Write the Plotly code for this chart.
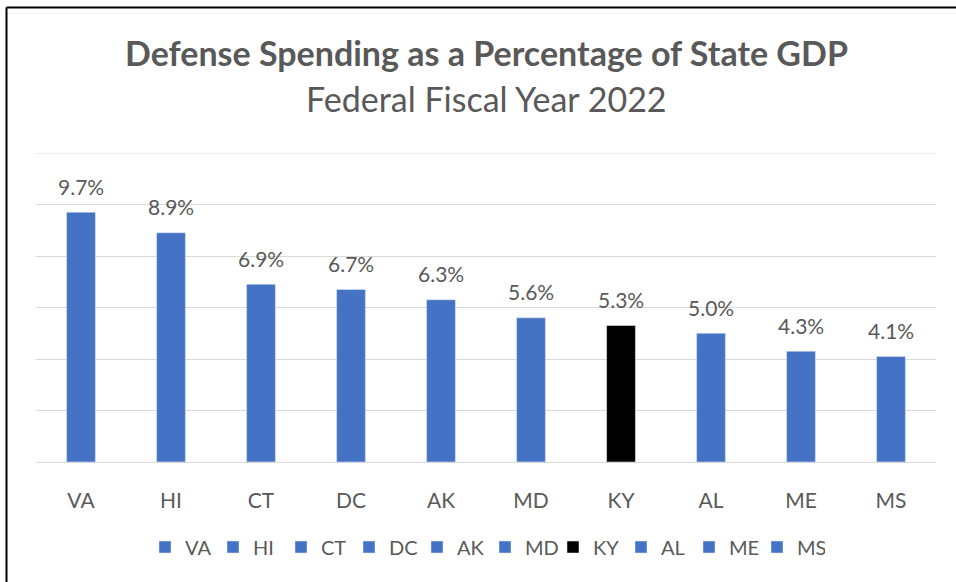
import plotly.graph_objects as go

states = ["VA", "HI", "CT", "DC", "AK", "MD", "KY", "AL", "ME", "MS"]
shares = [9.7, 8.9, 6.9, 6.7, 6.3, 5.6, 5.3, 5.0, 4.3, 4.1]
bar_colors = ["#4472C4"] * 6 + ["#000000"] + ["#4472C4"] * 3

GREY = "#595959"
FONT = "Lato, sans-serif"

W, H = 956, 582
M = {"l": 36, "r": 20, "t": 153, "b": 120}
pw = W - M["l"] - M["r"]
ph = H - M["t"] - M["b"]


def px_x(x):
    return (x - M["l"]) / pw


def px_y(y):
    return (H - M["b"] - y) / ph


fig = go.Figure()
for state, share, color in zip(states, shares, bar_colors):
    fig.add_trace(
        go.Bar(
            x=[state],
            y=[share],
            name=state,
            marker={"color": color},
            width=0.32,
            hoverinfo="skip",
        )
    )
    fig.add_annotation(
        x=state,
        y=share,
        text=f"{share:.1f}%",
        showarrow=False,
        yshift=26,
        font={"size": 21, "color": GREY, "family": FONT},
    )

# titles
fig.add_annotation(
    x=px_x(W / 2 + 8), y=px_y(52), xref="paper", yref="paper", yanchor="middle",
    text="<b>Defense Spending as a Percentage of State GDP</b>",
    showarrow=False, font={"size": 34, "color": GREY, "family": FONT},
)
fig.add_annotation(
    x=px_x(W / 2 + 8), y=px_y(98), xref="paper", yref="paper", yanchor="middle",
    text="Federal Fiscal Year 2022",
    showarrow=False, font={"size": 34, "color": GREY, "family": FONT},
)

# top gridline (the one at the range edge is not drawn by plotly)
fig.add_hline(y=12, line={"color": "#d9d9d9", "width": 1}, layer="below")

# frame lines (top and left edges)
fig.add_shape(type="line", xref="paper", yref="paper",
              x0=px_x(6.5), x1=px_x(W), y0=px_y(7.5), y1=px_y(7.5),
              line={"color": "black", "width": 2})
fig.add_shape(type="line", xref="paper", yref="paper",
              x0=px_x(6.5), x1=px_x(6.5), y0=px_y(7.5), y1=px_y(H),
              line={"color": "black", "width": 2})

fig.update_layout(
    width=W,
    height=H,
    margin=M,
    barmode="overlay",
    paper_bgcolor="white",
    plot_bgcolor="white",
    font={"family": FONT, "color": GREY},
    showlegend=True,
    legend={
        "orientation": "h",
        "x": px_x(485),
        "xanchor": "center",
        "y": px_y(547),
        "yanchor": "middle",
        "font": {"size": 20, "color": GREY},
        "entrywidth": 23,
        "entrywidthmode": "pixels",
        "itemclick": False,
    },
)
fig.update_xaxes(
    showline=True, linecolor="#d9d9d9", linewidth=1,
    ticks="", tickfont={"size": 21, "color": GREY}, ticklabelstandoff=20,
)
fig.update_yaxes(
    range=[0, 12], dtick=2, showticklabels=False, gridcolor="#d9d9d9",
    zeroline=False, showline=False,
)

fig.write_html(
    "out.html",
    config={"displayModeBar": False},
    post_script="document.body.style.margin='0';",
)
